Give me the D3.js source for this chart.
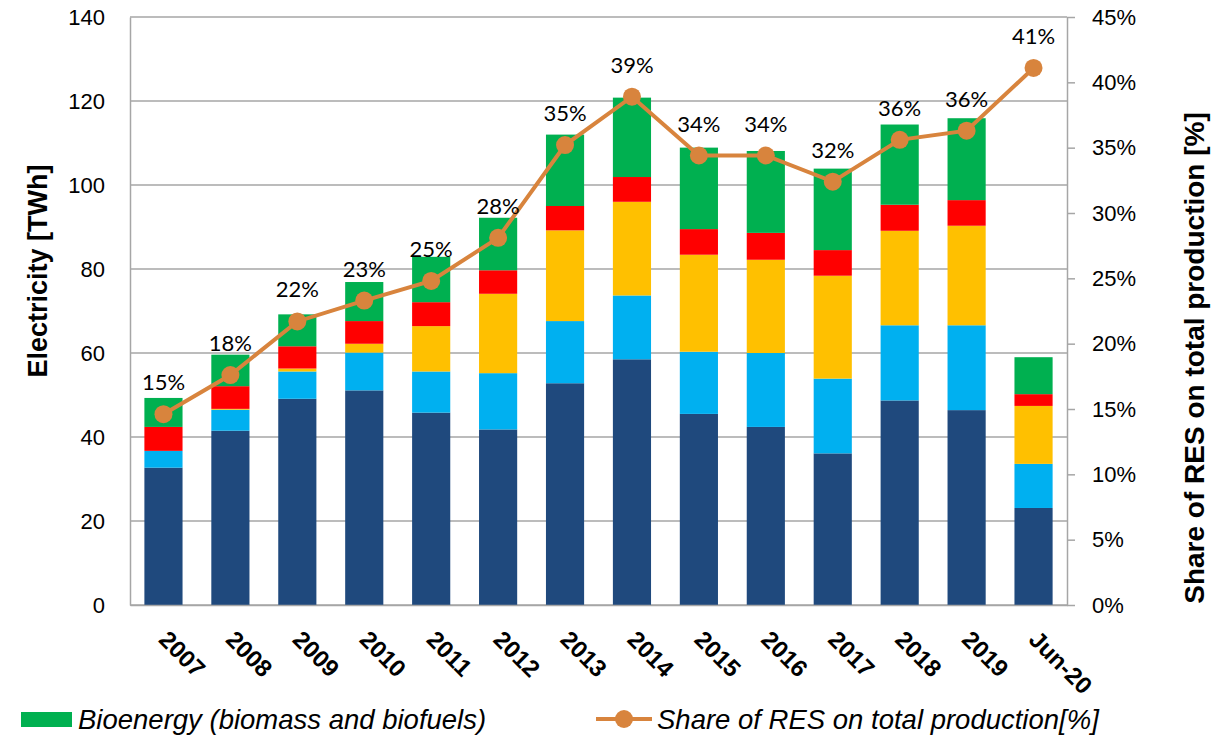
<!DOCTYPE html>
<html>
<head>
<meta charset="utf-8">
<script src="https://cdn.jsdelivr.net/npm/d3@7"></script>
<style>
  body { margin: 0; background: #fff; }
</style>
</head>
<body>
<div id="chart"></div>
<script>
var years = ["2007", "2008", "2009", "2010", "2011", "2012", "2013", "2014", "2015", "2016", "2017", "2018", "2019", "Jun-20"];
var hydro = [32.7, 41.5, 49.1, 51.1, 45.8, 41.8, 52.8, 58.5, 45.5, 42.4, 36.1, 48.7, 46.4, 23.1];
var wind = [4.0, 5.0, 6.5, 9.0, 9.8, 13.4, 14.8, 15.2, 14.8, 17.6, 17.8, 17.9, 20.2, 10.5];
var solar = [0, 0.2, 0.7, 2.1, 10.8, 18.9, 21.6, 22.3, 23.1, 22.2, 24.5, 22.5, 23.7, 13.8];
var geothermal = [5.7, 5.4, 5.3, 5.4, 5.7, 5.6, 5.8, 5.9, 6.1, 6.4, 6.1, 6.2, 6.1, 2.8];
var bioenergy = [6.9, 7.5, 7.6, 9.3, 10.8, 12.5, 17.0, 18.9, 19.4, 19.5, 19.4, 19.1, 19.5, 8.8];
var share = [14.6, 17.6, 21.7, 23.3, 24.8, 28.1, 35.2, 38.9, 34.4, 34.4, 32.4, 35.6, 36.3, 41.1];
var leftTicks = [0, 20, 40, 60, 80, 100, 120, 140];
var rightTicks = [0, 5, 10, 15, 20, 25, 30, 35, 40, 45];

var seriesKeys = ["hydro", "wind", "solar", "geothermal", "bioenergy"];
var colors = {hydro: "#1f497d", wind: "#00b0f0", solar: "#ffc000", geothermal: "#ff0000", bioenergy: "#00b050"};
var lineColor = "#d8843d";

var table = years.map((y, i) => ({
    year: y, hydro: hydro[i], wind: wind[i], solar: solar[i],
    geothermal: geothermal[i], bioenergy: bioenergy[i], share: share[i]
}));

var margin = {top: 17, right: 153, bottom: 132, left: 130};
var totalW = 1220, totalH = 737;
var width = totalW - margin.left - margin.right;
var height = totalH - margin.top - margin.bottom;

var x = d3.scaleBand()
    .domain(years)
    .range([0, width])
    .paddingInner(0.43)
    .paddingOuter(0.215);

var y = d3.scaleLinear().domain([0, 140]).range([height, 0]);
var y2 = d3.scaleLinear().domain([0, 45]).range([height, 0]);

var svg = d3.select("#chart").append("svg")
    .attr("width", totalW)
    .attr("height", totalH)
    .style("font-family", "Lato, 'Open Sans', sans-serif");

var g = svg.append("g")
    .attr("transform", "translate(" + margin.left + "," + margin.top + ")");

// gridlines
g.append("g")
    .selectAll("line")
    .data(leftTicks)
    .enter().append("line")
    .attr("x1", 0)
    .attr("x2", width)
    .attr("y1", d => y(d))
    .attr("y2", d => y(d))
    .attr("stroke", "#a6a6a6")
    .attr("stroke-width", 1.5);

// stacked bars
var stack = d3.stack().keys(seriesKeys)(table);

g.append("g")
    .selectAll("g")
    .data(stack)
    .enter().append("g")
    .attr("fill", d => colors[d.key])
    .selectAll("rect")
    .data(d => d)
    .enter().append("rect")
    .attr("x", d => x(d.data.year))
    .attr("y", d => y(d[1]))
    .attr("width", x.bandwidth())
    .attr("height", d => y(d[0]) - y(d[1]));

// left axis
var leftAxis = g.append("g")
    .call(d3.axisLeft(y).tickValues(leftTicks).tickSize(0).tickPadding(25));
leftAxis.select(".domain").attr("stroke", "#a6a6a6").attr("stroke-width", 1.5);
leftAxis.selectAll("text").style("font-size", "22px").attr("fill", "#000");

// right axis
var rightAxis = g.append("g")
    .attr("transform", "translate(" + width + ",0)")
    .call(d3.axisRight(y2).tickValues(rightTicks).tickFormat(d => d + "%").tickSize(8).tickSizeOuter(0).tickPadding(17));
rightAxis.select(".domain").attr("stroke", "#a6a6a6").attr("stroke-width", 1.5);
rightAxis.selectAll("line").attr("stroke", "#a6a6a6").attr("stroke-width", 1.5);
rightAxis.selectAll("text").style("font-size", "22px").attr("fill", "#000");

// bottom axis
var bottomAxis = g.append("g")
    .attr("transform", "translate(0," + height + ")")
    .call(d3.axisBottom(x).tickSize(0).tickPadding(0));
bottomAxis.select(".domain").attr("stroke", "#a6a6a6").attr("stroke-width", 1.5);
bottomAxis.selectAll("text")
    .attr("text-anchor", "start")
    .attr("dy", null)
    .attr("y", 0)
    .attr("transform", "translate(-6,36) rotate(45)")
    .style("font-family", "'Liberation Sans', Arial, sans-serif")
    .style("font-weight", "bold")
    .style("font-size", "24px")
    .attr("fill", "#000");

// share line
var cx = d => x(d.year) + x.bandwidth() / 2;
var line = d3.line().x(cx).y(d => y2(d.share));

g.append("path")
    .datum(table)
    .attr("fill", "none")
    .attr("stroke", lineColor)
    .attr("stroke-width", 4)
    .attr("d", line);

g.selectAll(".dot")
    .data(table)
    .enter().append("circle")
    .attr("class", "dot")
    .attr("cx", cx)
    .attr("cy", d => y2(d.share))
    .attr("r", 9)
    .attr("fill", lineColor);

g.selectAll(".lbl")
    .data(table)
    .enter().append("text")
    .attr("class", "lbl")
    .attr("x", cx)
    .attr("y", d => y2(d.share) - 24)
    .attr("text-anchor", "middle")
    .style("font-size", "22px")
    .attr("fill", "#000")
    .text(d => Math.round(d.share) + "%");

// axis titles
svg.append("text")
    .attr("transform", "translate(47,271) rotate(-90)")
    .attr("text-anchor", "middle")
    .style("font-family", "'Liberation Sans', Arial, sans-serif")
    .style("font-weight", "bold")
    .style("font-size", "27px")
    .text("Electricity [TWh]");

svg.append("text")
    .attr("transform", "translate(1204,358) rotate(-90)")
    .attr("text-anchor", "middle")
    .style("font-family", "'Liberation Sans', Arial, sans-serif")
    .style("font-weight", "bold")
    .style("font-size", "28px")
    .text("Share of RES on total production [%]");

// legend
var legend = svg.append("g")
    .style("font-family", "'Liberation Sans', Arial, sans-serif")
    .style("font-style", "italic")
    .style("font-size", "27.5px");

legend.append("rect")
    .attr("x", 21).attr("y", 712).attr("width", 51).attr("height", 15)
    .attr("fill", colors.bioenergy);
legend.append("text")
    .attr("x", 78).attr("y", 729)
    .text("Bioenergy (biomass and biofuels)");

legend.append("line")
    .attr("x1", 596).attr("x2", 652).attr("y1", 719).attr("y2", 719)
    .attr("stroke", lineColor).attr("stroke-width", 4);
legend.append("circle")
    .attr("cx", 624).attr("cy", 719).attr("r", 9)
    .attr("fill", lineColor);
legend.append("text")
    .attr("x", 657).attr("y", 729)
    .text("Share of RES on total production[%]");
</script>
</body>
</html>
